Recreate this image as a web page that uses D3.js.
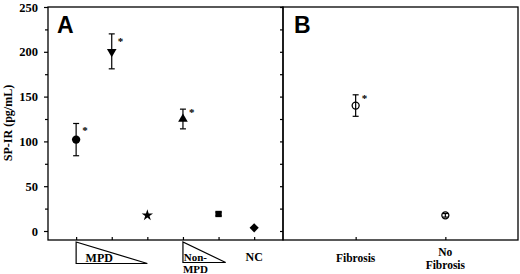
<!DOCTYPE html>
<html>
<head>
<meta charset="utf-8">
<script src="https://cdn.jsdelivr.net/npm/d3@7"></script>
<style>
  body { margin: 0; background: #fff; }
  svg text { font-family: "Liberation Serif", "DejaVu Serif", serif; font-weight: bold; fill: #000; }
</style>
</head>
<body>
<svg id="chart" width="520" height="274"></svg>
<script>
// panel A: groups 1..6
const aPos = [1, 2, 3, 4, 5, 6];
const aMean = [102, 200, 17.5, 125, 19, 3.5];
const aLow = [84, 181, null, 114, 17, null];
const aHigh = [120, 220, null, 136, 21, null];
const aSig = [true, true, false, true, false, false];
const aSymbol = ["circle", "triangleDown", "star", "triangleUp", "square", "diamond"];

// panel B
const bPos = [1, 2];
const bMean = [140, 17.5];
const bLow = [128, 15.5];
const bHigh = [152, 19.5];
const bSig = [true, false];
const bLabels = [["Fibrosis"], ["No", "Fibrosis"]];

const yTicks = [0, 50, 100, 150, 200, 250];
const yMinor = [25, 75, 125, 175, 225];
const yLabel = "SP-IR (pg/mL)";

const svg = d3.select("#chart");
const frameTop = 7, frameBottom = 240;

const y = d3.scaleLinear().domain([0, 250]).range([231, 7]);
const xA = d3.scaleLinear().domain([0.21, 6.81]).range([48, 283]);
const xB = d3.scaleLinear().domain([0.19, 2.81]).range([283, 518]);

// frames
[[48, 283], [283, 518]].forEach(([l, r]) => {
  svg.append("rect").attr("x", l).attr("y", frameTop)
    .attr("width", r - l).attr("height", frameBottom - frameTop)
    .attr("fill", "none").attr("stroke", "#000").attr("stroke-width", 1.3);
});

// y axis A
const axA = svg.append("g").attr("transform", "translate(48,0)")
  .call(d3.axisLeft(y).tickValues(yTicks).tickSize(4).tickPadding(6));
axA.select(".domain").remove();
axA.attr("font-size", 12.5).attr("font-family", null);
svg.append("g").attr("transform", "translate(48,0)")
  .call(d3.axisLeft(y).tickValues(yMinor).tickSize(3).tickFormat(""))
  .select(".domain").remove();

// y axis B (ticks only)
svg.append("g").attr("transform", "translate(283,0)")
  .call(d3.axisLeft(y).tickValues(yTicks.concat(yMinor)).tickSize(3).tickFormat(""))
  .select(".domain").remove();

// x ticks (inward)
svg.append("g").attr("transform", `translate(0,${frameBottom})`)
  .call(d3.axisTop(xA).tickValues(aPos).tickSize(3).tickFormat(""))
  .select(".domain").remove();
svg.append("g").attr("transform", `translate(0,${frameBottom})`)
  .call(d3.axisTop(xB).tickValues(bPos).tickSize(3).tickFormat(""))
  .select(".domain").remove();

svg.selectAll(".tick line").attr("stroke", "#000").attr("stroke-width", 1.2);

// y label
svg.append("text")
  .attr("transform", "translate(12,123) rotate(-90)")
  .attr("text-anchor", "middle").attr("font-size", 12)
  .text(yLabel);

// panel letters
svg.append("text").attr("x", 57).attr("y", 33)
  .style("font-family", "Liberation Sans, Arial, sans-serif")
  .attr("font-size", 23).text("A");
svg.append("text").attr("x", 294).attr("y", 33)
  .style("font-family", "Liberation Sans, Arial, sans-serif")
  .attr("font-size", 23).text("B");

// error bars
function errorBars(x, pos, low, high) {
  const g = svg.append("g").attr("stroke", "#000").attr("stroke-width", 1.2);
  pos.forEach((p, i) => {
    if (low[i] == null) return;
    const cx = x(p);
    g.append("line").attr("x1", cx).attr("x2", cx).attr("y1", y(low[i])).attr("y2", y(high[i]));
    g.append("line").attr("x1", cx - 3).attr("x2", cx + 3).attr("y1", y(low[i])).attr("y2", y(low[i]));
    g.append("line").attr("x1", cx - 3).attr("x2", cx + 3).attr("y1", y(high[i])).attr("y2", y(high[i]));
  });
}
errorBars(xA, aPos, aLow, aHigh);
errorBars(xB, bPos, bLow, bHigh);

// markers A
const symbolMap = {
  circle: [d3.symbolCircle, 55, 0],
  triangleDown: [d3.symbolTriangle, 40, 180],
  triangleUp: [d3.symbolTriangle, 40, 0],
  star: [d3.symbolStar, 40, 0],
  square: [d3.symbolSquare, 40, 0],
  diamond: [d3.symbolSquare, 42, 45]
};
svg.append("g").selectAll("path").data(aPos).join("path")
  .attr("transform", (p, i) => {
    const s = symbolMap[aSymbol[i]];
    return `translate(${xA(p)},${y(aMean[i])}) rotate(${s[2]})`;
  })
  .attr("d", (p, i) => {
    const s = symbolMap[aSymbol[i]];
    return d3.symbol().type(s[0]).size(s[1])();
  })
  .attr("fill", "#000");

// markers B (open circles)
svg.append("g").selectAll("circle").data(bPos).join("circle")
  .attr("cx", p => xB(p)).attr("cy", (p, i) => y(bMean[i]))
  .attr("r", 3.5).attr("fill", "none").attr("stroke", "#000").attr("stroke-width", 1.3);

// significance stars
function sigMarks(x, pos, mean, sig) {
  pos.forEach((p, i) => {
    if (!sig[i]) return;
    svg.append("text").attr("x", x(p) + 6).attr("y", y(mean[i]) + 2)
      .attr("font-size", 11).text("*");
  });
}
sigMarks(xA, aPos, aHigh.map((h, i) => h == null ? aMean[i] : (aMean[i] + h) / 2), aSig);
sigMarks(xB, bPos, bHigh.map((h, i) => (bMean[i] + h) / 2), bSig);

// category labels panel A
const tri = svg.append("g").attr("fill", "none").attr("stroke", "#000").attr("stroke-width", 1.2);
tri.append("path").attr("d", `M${xA(1)},242 L${xA(1)},263.5 L${xA(3)},263.5 Z`);
tri.append("path").attr("d", `M${xA(4)},242 L${xA(4)},262.5 L${xA(5.2)},262.5 Z`);
svg.append("text").attr("x", xA(1.65)).attr("y", 261.5).attr("text-anchor", "middle")
  .attr("font-size", 12).text("MPD");
svg.append("text").attr("x", xA(4.35)).attr("y", 261).attr("text-anchor", "middle")
  .attr("font-size", 11).text("Non-");
svg.append("text").attr("x", xA(4.35)).attr("y", 273).attr("text-anchor", "middle")
  .attr("font-size", 11).text("MPD");
svg.append("text").attr("x", xA(6)).attr("y", 261).attr("text-anchor", "middle")
  .attr("font-size", 12).text("NC");

// category labels panel B
bPos.forEach((p, i) => {
  const lines = bLabels[i];
  lines.forEach((t, j) => {
    svg.append("text").attr("x", xB(p))
      .attr("y", lines.length === 1 ? 261.5 : 256 + j * 12.5)
      .attr("text-anchor", "middle").attr("font-size", 11.5).text(t);
  });
});
</script>
</body>
</html>
